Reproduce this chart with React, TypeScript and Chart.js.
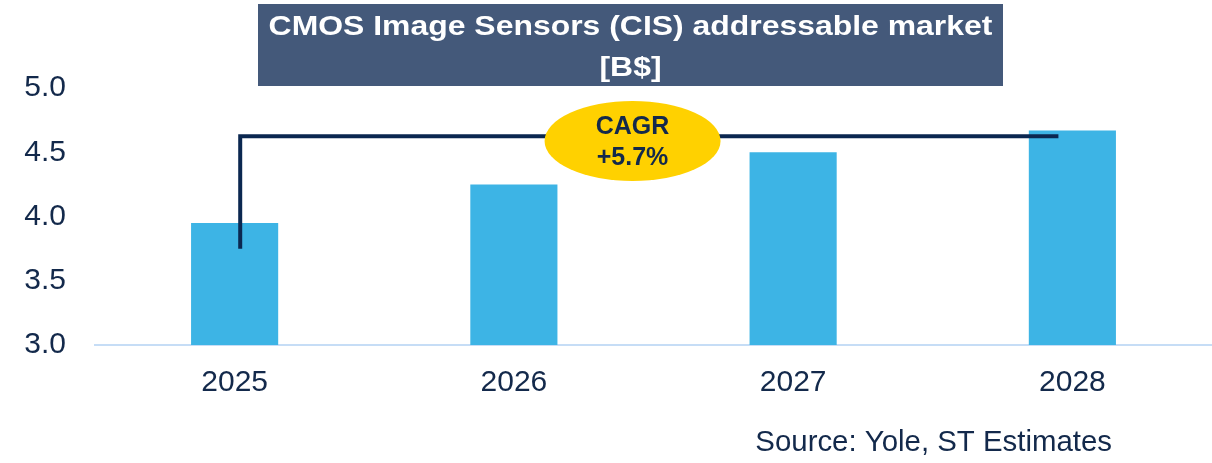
import React, { useEffect, useRef } from "react";
import { Chart, registerables } from "chart.js";

Chart.register(...registerables);

const years = ["2025", "2026", "2027", "2028"];
const marketValues = [3.95, 4.25, 4.5, 4.67];
const yTicks = [3.0, 3.5, 4.0, 4.5, 5.0];
const titleLines = ["CMOS Image Sensors (CIS) addressable market", "[B$]"];
const cagrLines = ["CAGR", "+5.7%"];
const sourceText = "Source: Yole, ST Estimates";
// connector: [x index, y value] points
const connectorPoints: [number, number][] = [
  [0.02, 3.75],
  [0.02, 4.625],
  [2.95, 4.625],
];
const cagrAnchor: [number, number] = [1.425, 4.588];

const NAVY = "#0B2750";
const TEXT = "#13294B";

const overlayPlugin = {
  id: "overlay",
  afterDatasetsDraw(chart: any) {
    const ctx = chart.ctx;
    const xs = chart.scales.x;
    const ys = chart.scales.y;
    ctx.save();
    ctx.strokeStyle = NAVY;
    ctx.lineWidth = 4;
    ctx.lineJoin = "miter";
    ctx.beginPath();
    connectorPoints.forEach(([xi, yv], i) => {
      const px = xs.getPixelForValue(xi);
      const py = ys.getPixelForValue(yv);
      if (i === 0) ctx.moveTo(px, py);
      else ctx.lineTo(px, py);
    });
    ctx.stroke();
    const cx = xs.getPixelForValue(cagrAnchor[0]);
    const cy = ys.getPixelForValue(cagrAnchor[1]);
    ctx.fillStyle = "#FFD100";
    ctx.beginPath();
    ctx.ellipse(cx, cy, 88, 40, 0, 0, Math.PI * 2);
    ctx.fill();
    ctx.fillStyle = TEXT;
    ctx.font = "bold 25px 'Liberation Sans', Arial, sans-serif";
    ctx.textAlign = "center";
    ctx.textBaseline = "middle";
    ctx.fillText(cagrLines[0], cx, cy - 14);
    ctx.fillText(cagrLines[1], cx, cy + 17);
    ctx.restore();
  },
  afterDraw(chart: any) {
    const ctx = chart.ctx;
    ctx.save();
    ctx.fillStyle = "#44597A";
    ctx.fillRect(258, 4, 745, 82);
    ctx.fillStyle = "#FFFFFF";
    ctx.font = "bold 28px 'Liberation Sans', Arial, sans-serif";
    ctx.textAlign = "center";
    ctx.textBaseline = "middle";
    const drawStretched = (t: string, x: number, y: number, sx: number) => {
      ctx.save();
      ctx.translate(x, y);
      ctx.scale(sx, 1);
      ctx.fillText(t, 0, 0);
      ctx.restore();
    };
    drawStretched(titleLines[0], 630.5, 27, 1.14);
    drawStretched(titleLines[1], 630.5, 68, 1.14);
    ctx.fillStyle = TEXT;
    ctx.font = "29.4px 'Liberation Sans', Arial, sans-serif";
    ctx.textAlign = "right";
    ctx.fillText(sourceText, 1112, 443);
    ctx.restore();
  },
};

export default function App() {
  const ref = useRef<HTMLCanvasElement>(null);
  useEffect(() => {
    if (!ref.current) return;
    const chart = new Chart(ref.current, {
      type: "bar",
      data: {
        labels: years,
        datasets: [
          {
            data: marketValues,
            backgroundColor: "#3DB4E5",
            borderWidth: 0,
            barPercentage: 0.312,
            categoryPercentage: 1,
          },
        ],
      },
      options: {
        animation: false,
        responsive: false,
        maintainAspectRatio: false,
        layout: { padding: { top: 88, right: 0, left: 0, bottom: 0 } },
        plugins: { legend: { display: false }, tooltip: { enabled: false }, title: { display: false } },
        scales: {
          x: {
            grid: { display: false, drawTicks: false },
            border: { display: true, color: "#C6DDF6", width: 2 },
            ticks: {
              color: TEXT,
              font: { family: "'Liberation Sans', Arial, sans-serif", size: 30 },
              padding: 20,
            },
            afterFit(scale: any) {
              scale.height = 118;
            },
          },
          y: {
            min: 3,
            max: 5,
            afterBuildTicks(scale: any) {
              scale.ticks = yTicks.map((v) => ({ value: v }));
            },
            grid: { display: false, drawTicks: false },
            border: { display: false },
            ticks: {
              color: TEXT,
              font: { family: "'Liberation Sans', Arial, sans-serif", size: 30 },
              padding: 29,
              callback: (v: any) => Number(v).toFixed(1),
            },
            afterFit(scale: any) {
              scale.width = 95;
            },
          },
        },
      },
      plugins: [overlayPlugin],
    });
    return () => chart.destroy();
  }, []);
  return (
    <div style={{ position: "fixed", left: 0, top: 0, width: 1212, height: 463, background: "#fff" }}>
      <canvas ref={ref} width={1212} height={463} style={{ width: 1212, height: 463 }} />
    </div>
  );
}
